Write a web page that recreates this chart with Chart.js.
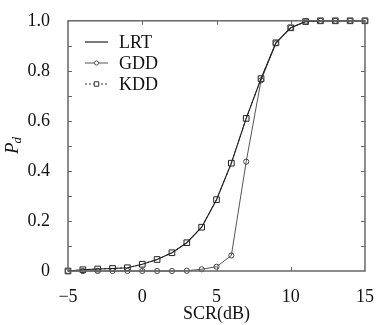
<!DOCTYPE html>
<html>
<head>
<meta charset="utf-8">
<script src="https://cdn.jsdelivr.net/npm/chart.js@4.4.1/dist/chart.umd.min.js"></script>
<style>
  html, body { margin: 0; padding: 0; background: #fff; }
  #wrap { width: 381px; height: 325px; }
</style>
</head>
<body>
<div id="wrap"><canvas id="chart" width="381" height="325"></canvas></div>
<script>
// SCR in dB
const scr = [-5, -4, -3, -2, -1, 0, 1, 2, 3, 4, 5, 6, 7, 8, 9, 10, 11, 12, 13, 14, 15];
// detection probability
const lrt = [0, 0.005, 0.008, 0.01, 0.013, 0.027, 0.046, 0.073, 0.113, 0.175, 0.285, 0.431, 0.61, 0.769, 0.912, 0.972, 0.997, 1, 1, 1, 1];
const gdd = [0, 0, 0, 0, 0, 0, 0, 0, 0.001, 0.007, 0.017, 0.062, 0.437, 0.762, 0.91, 0.972, 0.997, 1, 1, 1, 1];
const kdd = [0, 0.005, 0.008, 0.01, 0.013, 0.027, 0.046, 0.073, 0.113, 0.175, 0.285, 0.431, 0.61, 0.769, 0.912, 0.972, 0.997, 1, 1, 1, 1];

const xTicks = [-5, 0, 5, 10, 15];
const yTicks = [0, 0.2, 0.4, 0.6, 0.8, 1.0];
const yMinor = [0.1, 0.2, 0.3, 0.4, 0.5, 0.6, 0.7, 0.8, 0.9];

const legendItems = ["LRT", "GDD", "KDD"];
const serif = "'Liberation Serif', 'DejaVu Serif', serif";

const pts = (ys) => scr.map((x, i) => ({x: x, y: ys[i]}));

// frame, inward ticks, legend and y label
const decor = {
  id: 'decor',
  afterDatasetsDraw(chart) {
    const ctx = chart.ctx;
    const a = chart.chartArea;
    const xs = chart.scales.x, ys = chart.scales.y;
    ctx.save();
    ctx.strokeStyle = '#666';
    ctx.lineWidth = 1.5;
    ctx.strokeRect(a.left, a.top, a.right - a.left, a.bottom - a.top);
    ctx.lineWidth = 1;
    ctx.beginPath();
    xTicks.slice(1, -1).forEach(v => {
      const p = Math.round(xs.getPixelForValue(v)) + 0.5;
      ctx.moveTo(p, a.bottom); ctx.lineTo(p, a.bottom - 4);
      ctx.moveTo(p, a.top); ctx.lineTo(p, a.top + 4);
    });
    yMinor.forEach(v => {
      const p = Math.round(ys.getPixelForValue(v)) + 0.5;
      ctx.moveTo(a.left, p); ctx.lineTo(a.left + 4, p);
      ctx.moveTo(a.right, p); ctx.lineTo(a.right - 4, p);
    });
    ctx.stroke();

    // legend
    const lx0 = 85, lx1 = 108, rows = [42, 63, 84];
    chart.data.datasets.forEach((ds, i) => {
      const y = rows[i];
      ctx.strokeStyle = ds.borderColor;
      ctx.lineWidth = ds.borderWidth;
      ctx.setLineDash(ds.borderDash || []);
      ctx.beginPath();
      ctx.moveTo(lx0, y); ctx.lineTo(lx1, y);
      ctx.stroke();
      ctx.setLineDash([]);
      if (ds.pointRadius > 0) {
        ctx.lineWidth = 1;
        ctx.fillStyle = '#fff';
        Chart.helpers.drawPoint(ctx, {pointStyle: ds.pointStyle, radius: ds.pointRadius * 0.8, borderWidth: 1}, (lx0 + lx1) / 2, y);
      }
      ctx.fillStyle = '#111';
      ctx.font = '18px ' + serif;
      ctx.textBaseline = 'middle';
      ctx.textAlign = 'left';
      ctx.fillText(legendItems[i], 119, y + 1);
    });

    // y axis label P_d
    ctx.translate(18, 154);
    ctx.rotate(-Math.PI / 2);
    ctx.fillStyle = '#111';
    ctx.textBaseline = 'alphabetic';
    ctx.font = 'italic 19px ' + serif;
    ctx.fillText('P', 0, 0);
    const w = ctx.measureText('P').width;
    ctx.font = 'italic 13px ' + serif;
    ctx.fillText('d', w - 1, 3);
    ctx.restore();
  }
};

new Chart(document.getElementById('chart'), {
  type: 'line',
  data: {
    datasets: [
      {label: 'LRT', data: pts(lrt), borderColor: '#222', borderWidth: 1.2, pointRadius: 0, clip: false},
      {label: 'GDD', data: pts(gdd), borderColor: '#555', borderWidth: 1, pointStyle: 'circle', pointRadius: 2.6,
        pointBorderWidth: 1, pointBackgroundColor: 'rgba(0,0,0,0)', pointBorderColor: '#444', clip: false},
      {label: 'KDD', data: pts(kdd), borderColor: '#333', borderWidth: 1, borderDash: [2, 2], pointStyle: 'rect',
        pointRadius: 4, pointBorderWidth: 1, pointBackgroundColor: 'rgba(0,0,0,0)', pointBorderColor: '#222', clip: false}
    ]
  },
  options: {
    responsive: false,
    animation: false,
    layout: {padding: {left: 0, right: 10, top: 20, bottom: 0}},
    plugins: {legend: {display: false}, tooltip: {enabled: false}},
    scales: {
      x: {
        type: 'linear', min: -5, max: 15,
        afterBuildTicks: s => { s.ticks = xTicks.map(v => ({value: v})); },
        afterFit: s => { s.height = 54; },
        grid: {display: false},
        border: {display: false},
        ticks: {
          padding: 7, color: '#111', font: {family: serif, size: 18},
          callback: v => v < 0 ? '\u2212' + Math.abs(v) : String(v)
        },
        title: {display: true, text: 'SCR(dB)', color: '#111', font: {family: serif, size: 18}, padding: {top: 0, bottom: 0}}
      },
      y: {
        min: 0, max: 1,
        afterBuildTicks: s => { s.ticks = yTicks.map(v => ({value: v})); },
        afterFit: s => { s.width = 68; },
        grid: {display: false},
        border: {display: false},
        ticks: {
          padding: 10, color: '#111', font: {family: serif, size: 18},
          callback: v => v === 0 ? '0' : v.toFixed(1)
        }
      }
    }
  },
  plugins: [decor]
});
</script>
</body>
</html>
